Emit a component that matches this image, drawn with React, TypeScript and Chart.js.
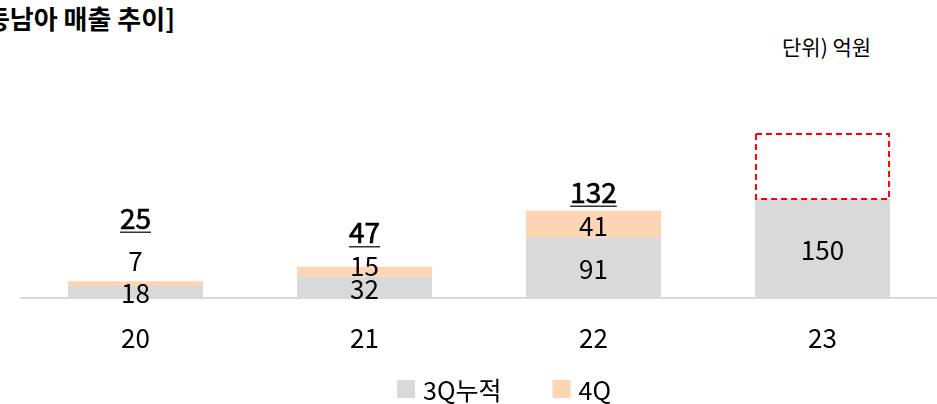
import React, { useEffect, useRef } from "react";
import { Chart, registerables } from "chart.js";

Chart.register(...registerables);

const categories = ["20", "21", "22", "23"];
const q3Values: (number | null)[] = [18, 32, 91, 150];
const q4Values: (number | null)[] = [7, 15, 41, null];
const estimateValues: (number | null)[] = [null, null, null, 100];
const seriesNames = ["3Q누적", "4Q"];

const FONT = '"Noto Sans CJK KR", "Noto Sans", sans-serif';
const GRAY = "#d9d9d9";
const PEACH = "#fcd5b5";

// presentational offsets (px) of total labels above the bar top
const TOTAL_GAPS = [63, 34, 18.5];

const labelPlugin = {
  id: "valueLabels",
  afterDatasetsDraw(chart: any) {
    const ctx = chart.ctx as CanvasRenderingContext2D;
    ctx.save();
    ctx.textAlign = "center";
    ctx.textBaseline = "middle";
    ctx.fillStyle = "#000";
    ctx.font = `26px ${FONT}`;
    [0, 1].forEach((di) => {
      const meta = chart.getDatasetMeta(di);
      meta.data.forEach((bar: any, i: number) => {
        const v = chart.data.datasets[di].data[i];
        if (v == null) return;
        const { x, y, base } = bar.getProps(["x", "y", "base"], true);
        const h = base - y;
        let cy = (y + base) / 2 + 1.5;
        if (h < 8) cy = y - 20;
        else if (di === 1 && h < 14) cy -= 7.5;
        ctx.fillText(String(v), x, cy);
      });
    });
    // totals
    const topMeta = chart.getDatasetMeta(1);
    ctx.font = `400 28px ${FONT}`;
    topMeta.data.forEach((bar: any, i: number) => {
      const a = q3Values[i];
      const b = q4Values[i];
      if (a == null || b == null) return;
      const total = a + b;
      const { x, y } = bar.getProps(["x", "y"], true);
      const cy = y - (TOTAL_GAPS[i] ?? 20);
      const txt = String(total);
      ctx.fillStyle = "#000";
      ctx.strokeStyle = "#000";
      ctx.lineWidth = 0.7;
      ctx.fillText(txt, x, cy);
      ctx.strokeText(txt, x, cy);
      const w = ctx.measureText(txt).width;
      ctx.strokeStyle = "#333";
      ctx.lineWidth = 1.5;
      ctx.beginPath();
      ctx.moveTo(x - w / 2, cy + 14);
      ctx.lineTo(x + w / 2, cy + 14);
      ctx.stroke();
    });
    // dashed estimate box
    const estMeta = chart.getDatasetMeta(2);
    estMeta.data.forEach((bar: any, i: number) => {
      if (estimateValues[i] == null) return;
      const { x, y, base, width } = bar.getProps(["x", "y", "base", "width"], true);
      ctx.strokeStyle = "#ff0000";
      ctx.lineWidth = 2;
      ctx.setLineDash([6, 4]);
      ctx.strokeRect(x - width / 2 + 1, y + 1, width - 2, base - y - 1);
      ctx.setLineDash([]);
    });
    ctx.restore();
  },
};

const LEGEND_CENTER_X = 504;
const LEGEND_Y = 389;

const legendPlugin = {
  id: "customLegend",
  afterDraw(chart: any) {
    const ctx = chart.ctx as CanvasRenderingContext2D;
    ctx.save();
    ctx.font = `25px ${FONT}`;
    ctx.textBaseline = "middle";
    ctx.textAlign = "left";
    const box = 18;
    const gapText = 8;
    const gapItem = 51;
    const items = [0, 1].map((di) => ({
      text: chart.data.datasets[di].label as string,
      color: chart.data.datasets[di].backgroundColor as string,
    }));
    const widths = items.map((it) => box + gapText + ctx.measureText(it.text).width);
    const total = widths.reduce((s, w) => s + w, 0) + gapItem * (items.length - 1);
    let x = LEGEND_CENTER_X - total / 2;
    items.forEach((it, k) => {
      ctx.fillStyle = it.color;
      ctx.fillRect(x, LEGEND_Y - box / 2, box, box);
      ctx.fillStyle = "#000";
      ctx.fillText(it.text, x + box + gapText, LEGEND_Y + 1);
      x += widths[k] + gapItem;
    });
    ctx.restore();
  },
};

export default function App() {
  const ref = useRef<HTMLCanvasElement | null>(null);
  useEffect(() => {
    if (!ref.current) return;
    const chart = new Chart(ref.current, {
      type: "bar",
      data: {
        labels: categories,
        datasets: [
          { label: seriesNames[0], data: q3Values, backgroundColor: GRAY, stack: "s" },
          { label: seriesNames[1], data: q4Values, backgroundColor: PEACH, stack: "s" },
          { label: "estimate", data: estimateValues, backgroundColor: "rgba(0,0,0,0)", stack: "s" },
        ],
      },
      options: {
        animation: false,
        responsive: true,
        maintainAspectRatio: false,
        layout: { padding: { top: 133, left: 21, right: 0, bottom: 26 } },
        datasets: { bar: { categoryPercentage: 1, barPercentage: 0.59, borderWidth: 0 } },
        plugins: {
          legend: { display: false },
          tooltip: { enabled: false },
          title: { display: false },
        },
        scales: {
          x: {
            stacked: true,
            grid: { display: false, drawTicks: false },
            border: { display: true, color: GRAY, width: 2 },
            ticks: { color: "#000", font: { family: FONT, size: 26 }, padding: 24.5 },
          },
          y: {
            stacked: true,
            display: false,
            min: 0,
            max: 250,
          },
        },
      },
      plugins: [labelPlugin, legendPlugin],
    });
    return () => chart.destroy();
  }, []);

  return (
    <div style={{ position: "fixed", left: 0, top: 0, width: 937, height: 404, background: "#fff", overflow: "hidden" }}>
      <div
        style={{
          position: "absolute",
          left: 0,
          top: 1,
          width: 175,
          overflow: "hidden",
          display: "flex",
          justifyContent: "flex-end",
          whiteSpace: "nowrap",
          fontFamily: FONT,
          fontWeight: 700,
          fontSize: 26,
          lineHeight: "34px",
          color: "#000",
        }}
      >
        <span style={{ flexShrink: 0 }}>[동남아 매출 추이]</span>
      </div>
      <div
        style={{
          position: "absolute",
          left: 782,
          top: 31,
          fontFamily: FONT,
          fontSize: 21,
          lineHeight: "30px",
          color: "#000",
          whiteSpace: "nowrap",
        }}
      >
        단위) 억원
      </div>
      <div style={{ position: "absolute", left: 0, top: 0, width: 937, height: 404 }}>
        <canvas ref={ref} />
      </div>
    </div>
  );
}
